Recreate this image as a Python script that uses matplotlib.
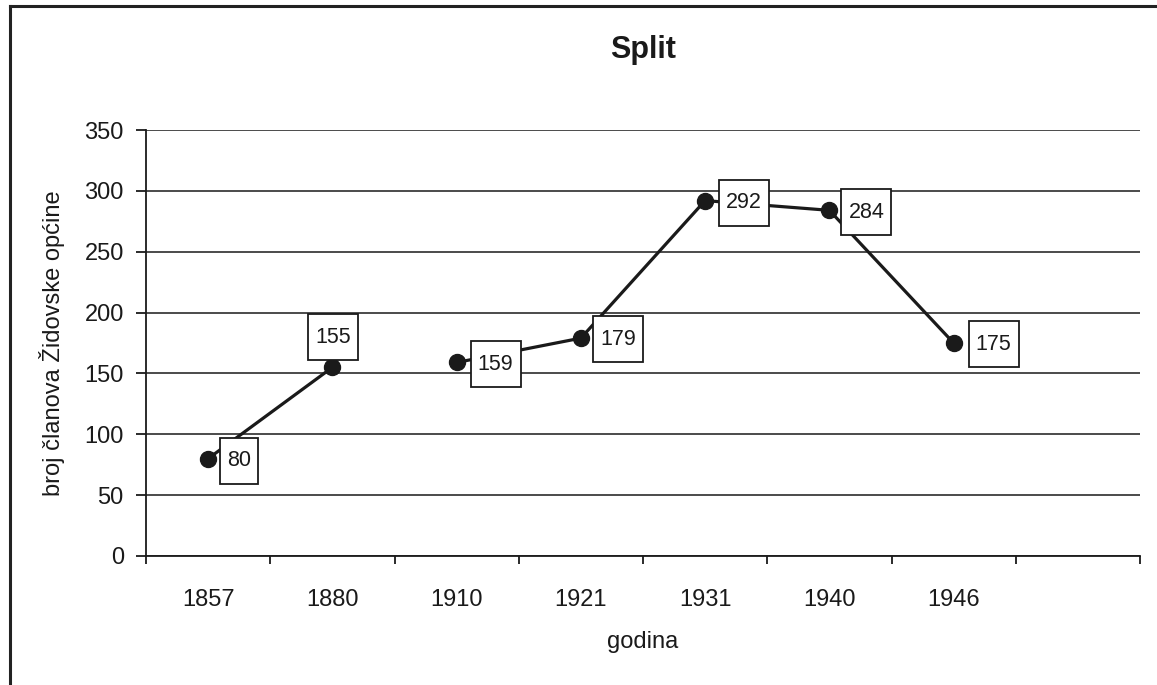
import matplotlib
matplotlib.use("Agg")
import matplotlib.pyplot as plt
from matplotlib.lines import Line2D
from matplotlib.path import Path

plt.rcParams['font.family'] = ['Liberation Sans', 'DejaVu Sans']

years = ['1857', '1880', '1910', '1921', '1931', '1940', '1946']
members = [80, 155, 159, 179, 292, 284, 175]
# line is broken between 1880 and 1910 (no continuity in the source)
segments = [(0, 2), (2, 7)]
# where each value label sits relative to its point (pixels)
label_offsets = [(31, -2), (1, 30), (39, -2), (37, -1), (39, -2), (37, -2), (40, -1)]


def tall_box(x0, y0, width, height, mutation_size):
    # square box, a bit taller than wide padding like the old excel labels
    px = 0.33 * mutation_size
    py = 0.58 * mutation_size
    x0, y0 = x0 - px, y0 - py
    x1, y1 = x0 + width + 2 * px, y0 + height + 2 * py
    return Path([(x0, y0), (x1, y0), (x1, y1), (x0, y1), (x0, y0)], closed=True)


fig = plt.figure(figsize=(11.57, 6.85), dpi=100)
ax = fig.add_axes([146 / 1157, 1 - 556 / 685, (1140 - 146) / 1157, (556 - 130) / 685])

for a, b in segments:
    ax.plot(range(a, b), members[a:b], color='#1a1a1a', lw=2.3,
            marker='o', markersize=11.5, zorder=3)

for i, v in enumerate(members):
    ax.annotate(str(v), (i, v), xytext=label_offsets[i], textcoords='offset pixels',
                ha='center', va='center', fontsize=15.5, color='#1a1a1a', zorder=4,
                bbox=dict(boxstyle=tall_box, fc='white', ec='#1a1a1a', lw=1.3))

ax.set_xlim(-0.5, 7.5)
ax.set_ylim(0, 350)
ax.set_yticks(range(0, 351, 50))
ax.set_xticks([x - 0.5 for x in range(9)])
ax.set_xticklabels([])
ax.set_xticks(range(len(years)), minor=True)
ax.set_xticklabels(years, minor=True)
ax.tick_params(axis='x', which='major', direction='out', length=6, width=1.3, color='#1a1a1a')
ax.tick_params(axis='x', which='minor', length=0, pad=24, labelsize=17, labelcolor='#1a1a1a')
ax.tick_params(axis='y', direction='out', length=7, width=1.3, pad=9, labelsize=17,
               labelcolor='#1a1a1a', color='#1a1a1a')

ax.grid(axis='y', color='#1a1a1a', lw=1.1)
ax.set_axisbelow(True)
for s in ['top', 'right']:
    ax.spines[s].set_visible(False)
for s in ['left', 'bottom']:
    ax.spines[s].set_color('#1a1a1a')
    ax.spines[s].set_linewidth(1.3)

ax.set_xlabel('godina', fontsize=17, color='#1a1a1a', labelpad=14)
ax.set_ylabel('broj članova Židovske općine', fontsize=17, color='#1a1a1a', labelpad=14)
ax.set_title('Split', fontsize=22, fontweight='bold', color='#1a1a1a', pad=52)

# frame of the original chart (only left and top edges are visible)
fig.add_artist(Line2D([10 / 1157, 10 / 1157], [0, 1 - 6 / 685], transform=fig.transFigure,
                      color='#222222', lw=2.2))
fig.add_artist(Line2D([10 / 1157, 1], [1 - 6 / 685, 1 - 6 / 685], transform=fig.transFigure,
                      color='#222222', lw=2.2))

fig.savefig('out.png', dpi=100)
